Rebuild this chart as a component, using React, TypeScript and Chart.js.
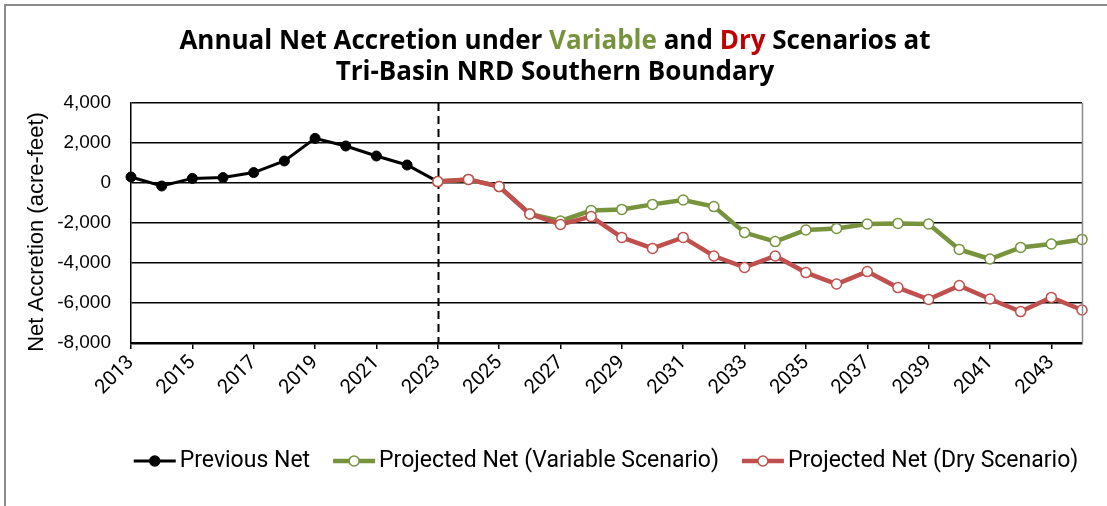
import React, { useEffect, useRef } from 'react';
import { Chart, registerables } from 'chart.js';

Chart.register(...registerables);

const years = [
  '2013', '2014', '2015', '2016', '2017', '2018', '2019', '2020', '2021', '2022',
  '2023', '2024', '2025', '2026', '2027', '2028', '2029', '2030', '2031', '2032',
  '2033', '2034', '2035', '2036', '2037', '2038', '2039', '2040', '2041', '2042',
  '2043', '2044',
];

const previousNet = [
  300, -150, 230, 270, 520, 1100, 2230, 1850, 1350, 900, 70,
  null, null, null, null, null, null, null, null, null, null,
  null, null, null, null, null, null, null, null, null, null, null,
];

const variableNet = [
  null, null, null, null, null, null, null, null, null, null,
  70, 180, -180, -1550, -1900, -1380, -1320, -1070, -850, -1180,
  -2480, -2930, -2350, -2270, -2050, -2020, -2050, -3320, -3800, -3220,
  -3050, -2820,
];

const dryNet = [
  null, null, null, null, null, null, null, null, null, null,
  70, 180, -180, -1550, -2070, -1680, -2720, -3270, -2720, -3650,
  -4220, -3650, -4480, -5050, -4430, -5230, -5820, -5130, -5800, -6430,
  -5720, -6350,
];

const yTicks = [4000, 2000, 0, -2000, -4000, -6000, -8000];
const dividerYear = '2023';

const titleLine1 = [
  { text: 'Annual Net Accretion under ', color: '#000000' },
  { text: 'Variable', color: '#77933C' },
  { text: ' and ', color: '#000000' },
  { text: 'Dry', color: '#C00000' },
  { text: ' Scenarios at', color: '#000000' },
];
const titleLine2 = 'Tri-Basin NRD Southern Boundary';
const yAxisTitle = 'Net Accretion (acre-feet)';

const seriesNames = ['Previous Net', 'Projected Net (Variable Scenario)', 'Projected Net (Dry Scenario)'];
const seriesColors = ['#000000', '#77933C', '#C0504D'];

const TITLE_FONT = "bold 26px 'Open Sans'";
const LEGEND_FONT = "23px Roboto";

const decorPlugin = {
  id: 'decor',
  beforeDatasetsDraw(chart: any) {
    const { ctx, chartArea } = chart;
    const xs = chart.scales.x;
    const idx = years.indexOf(dividerYear);
    const x = Math.round(xs.getPixelForValue(idx)) + 0.5;
    ctx.save();
    ctx.strokeStyle = '#000';
    ctx.lineWidth = 2;
    ctx.setLineDash([8, 5]);
    ctx.beginPath();
    ctx.moveTo(x, chartArea.top);
    ctx.lineTo(x, chartArea.bottom);
    ctx.stroke();
    ctx.restore();
  },
  afterDraw(chart: any) {
    const { ctx, chartArea } = chart;
    ctx.save();
    // outer frame
    ctx.strokeStyle = '#8c8c8c';
    ctx.lineWidth = 2;
    ctx.beginPath();
    ctx.moveTo(5, 506);
    ctx.lineTo(5, 5);
    ctx.lineTo(1107, 5);
    ctx.stroke();
    // plot right border
    ctx.strokeStyle = '#8c8c8c';
    ctx.lineWidth = 1.5;
    ctx.beginPath();
    ctx.moveTo(chartArea.right + 0.5, chartArea.top);
    ctx.lineTo(chartArea.right + 0.5, chartArea.bottom);
    ctx.stroke();

    // title
    ctx.font = TITLE_FONT;
    ctx.textBaseline = 'alphabetic';
    ctx.textAlign = 'left';
    const cx = 555;
    const total = titleLine1.reduce((s, p) => s + ctx.measureText(p.text).width, 0);
    let x = cx - total / 2;
    for (const p of titleLine1) {
      ctx.fillStyle = p.color;
      ctx.fillText(p.text, x, 49);
      x += ctx.measureText(p.text).width;
    }
    ctx.fillStyle = '#000';
    ctx.textAlign = 'center';
    ctx.fillText(titleLine2, cx, 80);

    // y axis title
    ctx.save();
    ctx.translate(37, 232);
    ctx.rotate(-Math.PI / 2);
    ctx.font = "22px 'Liberation Sans'";
    ctx.textAlign = 'center';
    ctx.textBaseline = 'middle';
    ctx.fillStyle = '#000';
    ctx.fillText(yAxisTitle, 0, 0);
    ctx.restore();

    // legend
    ctx.font = LEGEND_FONT;
    const markerW = 42;
    const textGap = 4;
    const itemGap = 23;
    const widths = seriesNames.map((n) => ctx.measureText(n).width);
    const legendTotal = widths.reduce((s, w) => s + markerW + textGap + w, 0) + itemGap * (seriesNames.length - 1);
    let lx = 606 - legendTotal / 2;
    const ly = 461;
    seriesNames.forEach((name, i) => {
      const col = seriesColors[i];
      ctx.strokeStyle = col;
      ctx.lineWidth = i === 0 ? 3 : 4.5;
      ctx.beginPath();
      ctx.moveTo(lx, ly);
      ctx.lineTo(lx + markerW, ly);
      ctx.stroke();
      ctx.beginPath();
      ctx.arc(lx + markerW / 2, ly, 5, 0, Math.PI * 2);
      ctx.fillStyle = i === 0 ? '#000' : '#fff';
      ctx.fill();
      ctx.lineWidth = 1.5;
      ctx.stroke();
      ctx.fillStyle = '#000';
      ctx.textAlign = 'left';
      ctx.textBaseline = 'middle';
      ctx.fillText(name, lx + markerW + textGap, ly);
      lx += markerW + textGap + widths[i] + itemGap;
    });
    ctx.restore();
  },
};

export default function App() {
  const ref = useRef<HTMLCanvasElement | null>(null);

  useEffect(() => {
    if (!ref.current) return;
    const chart = new Chart(ref.current, {
      type: 'line',
      data: {
        labels: years,
        datasets: [
          {
            label: seriesNames[0],
            data: previousNet,
            borderColor: seriesColors[0],
            backgroundColor: seriesColors[0],
            borderWidth: 3,
            pointRadius: 5,
            pointBackgroundColor: '#000',
            pointBorderColor: '#000',
            pointBorderWidth: 1,
            tension: 0,
            order: 3,
            clip: false,
          },
          {
            label: seriesNames[1],
            data: variableNet,
            borderColor: seriesColors[1],
            backgroundColor: '#fff',
            borderWidth: 4.5,
            pointRadius: 5,
            pointBackgroundColor: '#fff',
            pointBorderColor: seriesColors[1],
            pointBorderWidth: 1.5,
            tension: 0,
            order: 2,
            clip: false,
          },
          {
            label: seriesNames[2],
            data: dryNet,
            borderColor: seriesColors[2],
            backgroundColor: '#fff',
            borderWidth: 4.5,
            pointRadius: 5,
            pointBackgroundColor: '#fff',
            pointBorderColor: seriesColors[2],
            pointBorderWidth: 1.5,
            tension: 0,
            order: 1,
            clip: false,
          },
        ] as any,
      },
      options: {
        responsive: false,
        animation: false,
        events: [],
        layout: { padding: { top: 103, left: 0, right: 25, bottom: 83 } },
        plugins: {
          legend: { display: false },
          title: { display: false },
          tooltip: { enabled: false },
        },
        scales: {
          x: {
            type: 'category',
            offset: false,
            grid: {
              drawOnChartArea: false,
              drawTicks: true,
              tickLength: 6,
              lineWidth: 1.5,
              color: (c: any) => (c.index % 2 === 0 ? '#000' : 'rgba(0,0,0,0)'),
            },
            border: { color: '#000', width: 2.5 },
            ticks: {
              autoSkip: false,
              maxRotation: 45,
              minRotation: 45,
              padding: 2,
              color: '#000',
              font: { family: 'Roboto', size: 20 },
              callback: (_v: any, i: number) => (i % 2 === 0 ? years[i] : ''),
            },
            afterFit: (s: any) => {
              s.height = 80;
            },
          },
          y: {
            min: yTicks[yTicks.length - 1],
            max: yTicks[0],
            grid: { color: '#000', lineWidth: 1.5, drawTicks: false },
            border: { color: '#000', width: 1.5 },
            ticks: {
              stepSize: 2000,
              padding: 20,
              color: '#000',
              font: { family: "'Liberation Sans'", size: 19 },
              callback: (v: any) => Number(v).toLocaleString('en-US'),
            },
            afterFit: (s: any) => {
              s.width = 131;
            },
          },
        },
      },
      plugins: [decorPlugin],
    });
    return () => chart.destroy();
  }, []);

  return (
    <div style={{ position: 'absolute', left: 0, top: 0, width: 1107, height: 506, background: '#fff' }}>
      <canvas ref={ref} width={1107} height={506} style={{ display: 'block' }} />
    </div>
  );
}
